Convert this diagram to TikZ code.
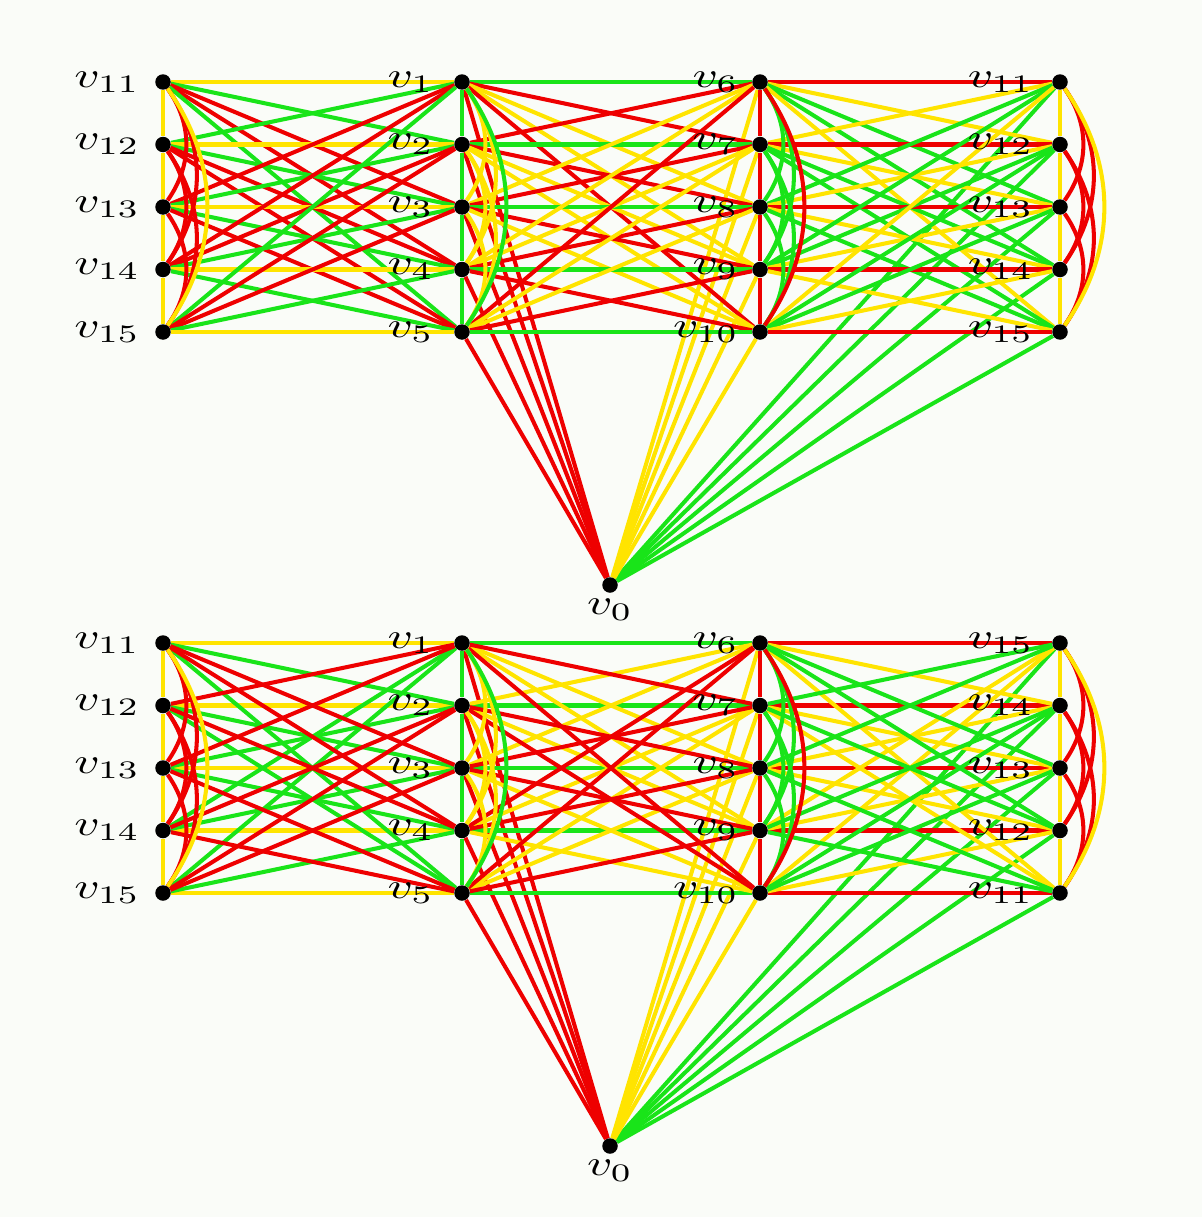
\documentclass[tikz,border=0pt]{standalone}
\usetikzlibrary{positioning}
\definecolor{er}{RGB}{238,0,0}
\definecolor{eg}{RGB}{25,228,25}
\definecolor{ey}{RGB}{255,228,0}
\definecolor{paper}{RGB}{250,252,248}
\pgfdeclarelayer{bg}
\pgfdeclarelayer{edges}
\pgfdeclarelayer{arcs}
\pgfsetlayers{bg,edges,arcs,main}
\newcommand\pickcol[4]{\ifcase#1 #2\or #3\or #4\or #4\or #3\fi}
\tikzset{
  vert/.style={circle,fill=black,inner sep=0pt,minimum size=0.31cm},
  edge/.style={line width=2.3pt},
  inarc/.style={edge,bend left=35},
  lab/.style={xscale=2.8,yscale=2.05,inner sep=0pt}
}
\begin{document}
\begin{tikzpicture}[x=0.02cm,y=-0.02cm]
\begin{pgfonlayer}{bg}
  \fill[paper] (0,0) rectangle (1202,1217);
\end{pgfonlayer}
\foreach \g/\yo/\sg/\base in {T/0/1/10,B/561/-1/16}{
  \node[vert] (\g0) at (610,585+\yo) {};
  \node[lab,below=3pt of \g0] (\g0-l) {$v_0$};
  \foreach \r in {1,...,5}{
    \pgfmathsetmacro\yy{82+62.5*(\r-1)+\yo}
    \pgfmathtruncatemacro\na{10+\r}
    \pgfmathtruncatemacro\nc{5+\r}
    \pgfmathtruncatemacro\nd{\base+\sg*\r}
    \node[vert] (\g1-\r) at (163,\yy) {};
    \node[vert] (\g2-\r) at (462,\yy) {};
    \node[vert] (\g3-\r) at (760,\yy) {};
    \node[vert] (\g4-\r) at (1060,\yy) {};
    \node[lab,left=8pt of \g1-\r] (\g1-\r-l) {$v_{\na}$};
    \node[lab,left=11pt of \g2-\r] (\g2-\r-l) {$v_{\r}$};
    \node[lab,left=7pt of \g3-\r] (\g3-\r-l) {$v_{\nc}$};
    \node[lab,left=10pt of \g4-\r] (\g4-\r-l) {$v_{\nd}$};
  }
  \begin{pgfonlayer}{edges}
  \foreach \i in {1,...,5}{
    \draw[edge,er] (\g0) -- (\g2-\i);
    \draw[edge,ey] (\g0) -- (\g3-\i);
    \draw[edge,eg] (\g0) -- (\g4-\i);
  }
  \end{pgfonlayer}
  \begin{pgfonlayer}{arcs}
  \foreach \c/\cy/\cs in {1/ey/er,2/eg/ey,3/er/eg,4/ey/er}{
    \foreach \i/\k in {1/3,2/4,3/5,1/4,2/5}
      \draw[inarc,\cs] (\g\c-\i) to (\g\c-\k);
    \draw[inarc,\cy] (\g\c-1) to (\g\c-5);
    \foreach \i/\k in {1/2,2/3,3/4,4/5}
      \draw[edge,\cy] (\g\c-\i) -- (\g\c-\k);
  }
  \end{pgfonlayer}
}
\begin{pgfonlayer}{edges}
\foreach \i in {1,...,5}{
  \foreach \j in {1,...,5}{
    \pgfmathtruncatemacro\d{mod(\j-\i+5,5)}
    \edef\ca{\pickcol{\d}{ey}{eg}{er}}
    \edef\cb{\pickcol{\d}{eg}{er}{ey}}
    \edef\cc{\pickcol{\d}{er}{ey}{eg}}
    \draw[edge,\ca] (T1-\i) -- (T2-\j);
    \draw[edge,\cb] (T2-\i) -- (T3-\j);
    \draw[edge,\cc] (T3-\i) -- (T4-\j);
  }
  \draw[edge,ey] (B1-\i) -- (B2-\i);
  \draw[edge,eg] (B2-\i) -- (B3-\i);
  \draw[edge,er] (B3-\i) -- (B4-\i);
}
\foreach \i/\j in {4/1,5/1,1/2,3/2,2/3,4/3,3/4,5/4,1/5,2/5}
  \draw[edge,eg] (B1-\i) -- (B2-\j);
\foreach \i/\j in {3/1,2/1,5/2,4/2,1/3,5/3,2/4,1/4,4/5,3/5}
  \draw[edge,er] (B1-\i) -- (B2-\j);
\foreach \i/\j in {1/3,1/4,2/1,2/4,3/1,3/5,4/2,4/5,5/2,5/3}
  \draw[edge,ey] (B2-\i) -- (B3-\j);
\foreach \i/\j in {1/2,1/5,2/3,2/5,3/2,3/4,4/1,4/3,5/1,5/4}
  \draw[edge,er] (B2-\i) -- (B3-\j);
\foreach \i/\j in {1/5,1/2,2/5,2/3,3/4,3/2,4/3,4/1,5/4,5/1}
  \draw[edge,ey] (B3-\i) -- (B4-\j);
\foreach \i/\j in {3/5,4/5,1/4,2/4,5/3,1/3,4/2,5/2,2/1,3/1}
  \draw[edge,eg] (B3-\i) -- (B4-\j);
\end{pgfonlayer}
\end{tikzpicture}
\end{document}
